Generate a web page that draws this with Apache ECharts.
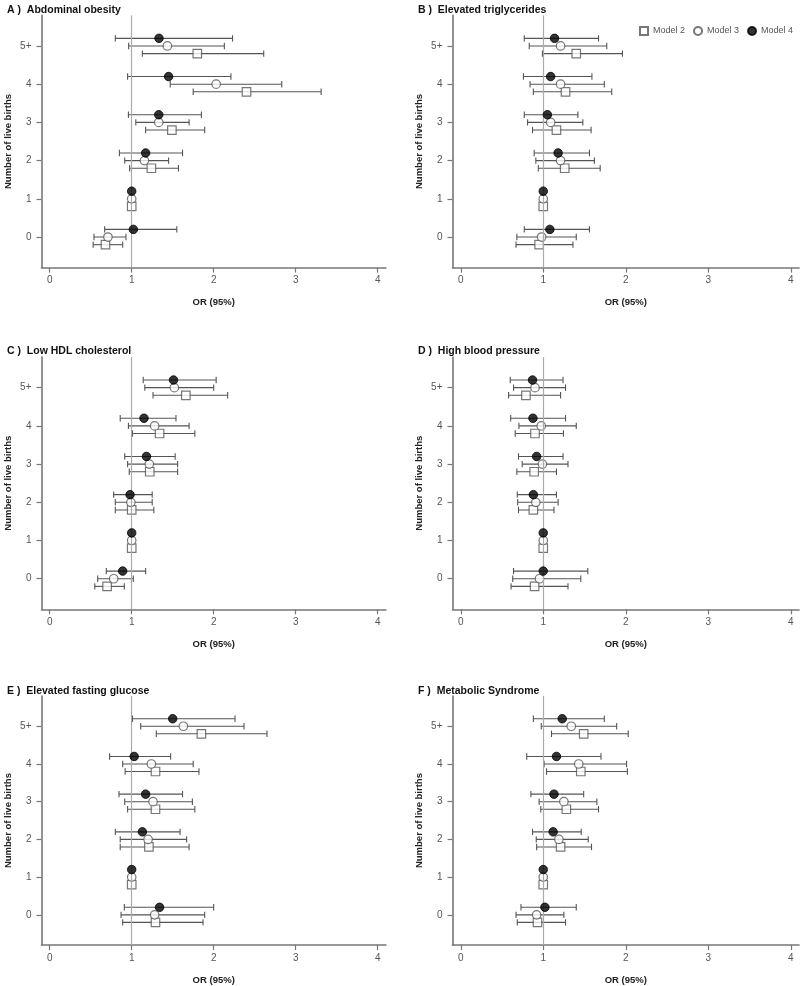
<!DOCTYPE html>
<html>
<head>
<meta charset="utf-8">
<script src="https://cdn.jsdelivr.net/npm/echarts@6/dist/echarts.min.js"></script>
<style>
html,body{margin:0;padding:0;background:#fff;}
#chart{width:800px;height:986px;}
</style>
</head>
<body>
<div id="chart"></div>
<script>
// ---------- DATA ----------
const yTickLabels = ['0', '1', '2', '3', '4', '5+'];
const xTickValues = [0, 1, 2, 3, 4];
const modelNames = ['Model 2', 'Model 3', 'Model 4'];
const panelTitles = [
  'A )  Abdominal obesity',
  'B )  Elevated triglycerides',
  'C )  Low HDL cholesterol',
  'D )  High blood pressure',
  'E )  Elevated fasting glucose',
  'F )  Metabolic Syndrome'
];
const xAxisTitle = 'OR (95%)';
const yAxisTitle = 'Number of live births';

// each row: [OR, lower CI, upper CI] for categories 0,1,2,3,4,5+
const obesity_m2 = [[0.68,0.53,0.89],[1,null,null],[1.24,0.975,1.57],[1.49,1.17,1.89],[2.40,1.75,3.31],[1.80,1.13,2.61]];
const obesity_m3 = [[0.71,0.54,0.93],[1,null,null],[1.155,0.915,1.45],[1.33,1.05,1.70],[2.03,1.47,2.83],[1.435,0.963,2.13]];
const obesity_m4 = [[1.02,0.67,1.55],[1,null,null],[1.17,0.85,1.62],[1.33,0.96,1.85],[1.45,0.95,2.21],[1.333,0.80,2.23]];

const trig_m2 = [[0.95,0.67,1.36],[1,null,null],[1.26,0.94,1.69],[1.16,0.87,1.58],[1.27,0.88,1.83],[1.40,0.99,1.96]];
const trig_m3 = [[0.98,0.68,1.40],[1,null,null],[1.21,0.91,1.62],[1.09,0.81,1.48],[1.21,0.84,1.74],[1.21,0.83,1.77]];
const trig_m4 = [[1.08,0.77,1.56],[1,null,null],[1.18,0.89,1.56],[1.05,0.77,1.42],[1.09,0.76,1.59],[1.137,0.77,1.67]];

const hdl_m2 = [[0.70,0.55,0.91],[1,null,null],[1.00,0.80,1.27],[1.22,0.97,1.56],[1.34,1.01,1.77],[1.66,1.26,2.17]];
const hdl_m3 = [[0.78,0.585,1.02],[1,null,null],[0.99,0.80,1.25],[1.215,0.95,1.56],[1.28,0.96,1.70],[1.52,1.16,2.00]];
const hdl_m4 = [[0.89,0.69,1.17],[1,null,null],[0.98,0.78,1.25],[1.18,0.915,1.53],[1.15,0.86,1.54],[1.51,1.14,2.03]];

const hbp_m2 = [[0.895,0.61,1.30],[1,null,null],[0.88,0.70,1.13],[0.89,0.68,1.16],[0.90,0.66,1.245],[0.79,0.58,1.21]];
const hbp_m3 = [[0.955,0.63,1.455],[1,null,null],[0.91,0.69,1.18],[0.99,0.745,1.30],[0.976,0.705,1.40],[0.90,0.64,1.27]];
const hbp_m4 = [[1.00,0.64,1.54],[1,null,null],[0.88,0.685,1.16],[0.92,0.70,1.24],[0.875,0.605,1.27],[0.87,0.60,1.24]];

const glucose_m2 = [[1.29,0.89,1.87],[1,null,null],[1.21,0.86,1.70],[1.29,0.95,1.77],[1.29,0.92,1.82],[1.85,1.30,2.65]];
const glucose_m3 = [[1.28,0.87,1.89],[1,null,null],[1.20,0.86,1.67],[1.26,0.915,1.74],[1.24,0.89,1.75],[1.63,1.11,2.37]];
const glucose_m4 = [[1.34,0.91,2.00],[1,null,null],[1.13,0.80,1.59],[1.17,0.845,1.62],[1.03,0.73,1.475],[1.50,1.01,2.26]];

const mets_m2 = [[0.93,0.685,1.27],[1,null,null],[1.21,0.92,1.585],[1.28,0.97,1.67],[1.455,1.04,2.02],[1.49,1.10,2.03]];
const mets_m3 = [[0.92,0.67,1.25],[1,null,null],[1.19,0.915,1.545],[1.25,0.95,1.65],[1.43,1.01,2.01],[1.34,0.976,1.89]];
const mets_m4 = [[1.02,0.73,1.40],[1,null,null],[1.12,0.87,1.46],[1.13,0.85,1.49],[1.16,0.80,1.70],[1.23,0.88,1.74]];

const panels = [
  [obesity_m2, obesity_m3, obesity_m4],
  [trig_m2, trig_m3, trig_m4],
  [hdl_m2, hdl_m3, hdl_m4],
  [hbp_m2, hbp_m3, hbp_m4],
  [glucose_m2, glucose_m3, glucose_m4],
  [mets_m2, mets_m3, mets_m4]
];

// ---------- LAYOUT / STYLE ----------
const FONT = '"Liberation Sans", Arial, sans-serif';
const colLeft = [41.5, 452.5];
const colWidth = [344.4, 346.5];
const rowTop = [15.4, 357.1, 696.1];
const rowHeight = 252.2;
const dodge = [-0.2, 0, 0.2]; // vertical offset of model 2/3/4 within a category
const titlePos = [[2, 0], [413, 0], [2, 341], [413, 341], [2, 681], [413, 681]];

const markerStyles = [
  { symbol: 'rect', itemStyle: { color: '#fff', borderColor: '#555', borderWidth: 1.2 } },
  { symbol: 'circle', itemStyle: { color: '#fff', borderColor: '#555', borderWidth: 1.2 } },
  { symbol: 'circle', itemStyle: { color: '#000', borderColor: '#000', borderWidth: 1 } }
];

function renderErrorBar(params, api) {
  const lo = api.value(0), hi = api.value(1), y = api.value(2);
  const p1 = api.coord([lo, y]);
  const p2 = api.coord([hi, y]);
  const c = 3.2;
  const st = { stroke: '#555', lineWidth: 1.1 };
  return {
    type: 'group',
    children: [
      { type: 'line', shape: { x1: p1[0], y1: p1[1], x2: p2[0], y2: p2[1] }, style: st },
      { type: 'line', shape: { x1: p1[0], y1: p1[1] - c, x2: p1[0], y2: p1[1] + c }, style: st },
      { type: 'line', shape: { x1: p2[0], y1: p2[1] - c, x2: p2[0], y2: p2[1] + c }, style: st }
    ]
  };
}

const grids = [], xAxes = [], yAxes = [], series = [], titles = [];
panels.forEach((models, pi) => {
  const col = pi % 2, row = Math.floor(pi / 2);
  grids.push({ left: colLeft[col], top: rowTop[row], width: colWidth[col], height: rowHeight });
  xAxes.push({
    gridIndex: pi, type: 'value', min: -0.1, max: 4.1, position: 'bottom',
    name: xAxisTitle, nameLocation: 'middle', nameGap: 30,
    nameTextStyle: { fontFamily: FONT, fontSize: 9.5, fontWeight: 'bold', color: '#222' },
    axisLine: { show: true, onZero: false, lineStyle: { color: '#777', width: 1.6 } },
    axisTick: { show: true, customValues: xTickValues, length: 5, lineStyle: { color: '#777', width: 1.2 } },
    axisLabel: { customValues: xTickValues, fontFamily: FONT, fontSize: 10, color: '#555', margin: 8 },
    splitLine: { show: false }
  });
  yAxes.push({
    gridIndex: pi, type: 'value', min: -0.8, max: 5.8, position: 'left',
    name: yAxisTitle, nameLocation: 'middle', nameGap: 28, nameRotate: 90,
    nameTextStyle: { fontFamily: FONT, fontSize: 9.5, fontWeight: 'bold', color: '#222' },
    axisLine: { show: true, onZero: false, lineStyle: { color: '#777', width: 1.6 } },
    axisTick: { show: true, customValues: [0, 1, 2, 3, 4, 5], length: 5, lineStyle: { color: '#777', width: 1.2 } },
    axisLabel: {
      customValues: [0, 1, 2, 3, 4, 5], fontFamily: FONT, fontSize: 10, color: '#555', margin: 10,
      formatter: v => yTickLabels[Math.round(v)]
    },
    splitLine: { show: false }
  });
  titles.push({
    text: panelTitles[pi], left: titlePos[pi][0], top: titlePos[pi][1],
    textStyle: { fontFamily: FONT, fontSize: 10.5, fontWeight: 'bold', color: '#111' }
  });
  // reference line at OR = 1
  series.push({
    type: 'line', xAxisIndex: pi, yAxisIndex: pi, data: [], silent: true, z: 1,
    markLine: {
      silent: true, symbol: 'none', label: { show: false },
      lineStyle: { color: '#aaa', width: 1.2, type: 'solid' },
      data: [{ xAxis: 1 }]
    }
  });
  models.forEach((rows, mi) => {
    const bars = [];
    const pts = [];
    rows.forEach((r, ci) => {
      const y = ci + dodge[mi];
      pts.push([r[0], y]);
      if (r[1] != null && r[2] != null) bars.push([r[1], r[2], y]);
    });
    series.push({
      type: 'custom', name: modelNames[mi] + ' CI', xAxisIndex: pi, yAxisIndex: pi,
      renderItem: renderErrorBar, encode: { x: [0, 1], y: 2 }, data: bars, z: 2, silent: true
    });
    series.push(Object.assign({
      type: 'scatter', name: modelNames[mi], xAxisIndex: pi, yAxisIndex: pi,
      symbolSize: 8.5, data: pts, z: 3 + mi
    }, markerStyles[mi]));
  });
});

const chart = echarts.init(document.getElementById('chart'), null, { renderer: 'canvas' });
chart.setOption({
  animation: false,
  backgroundColor: '#fff',
  title: titles,
  legend: {
    data: modelNames, left: 634, top: 21, width: 170, orient: 'horizontal',
    itemWidth: 8, itemHeight: 8, itemGap: 8,
    textStyle: { fontFamily: FONT, fontSize: 9, color: '#555' }
  },
  grid: grids,
  xAxis: xAxes,
  yAxis: yAxes,
  series: series
});
</script>
</body>
</html>
